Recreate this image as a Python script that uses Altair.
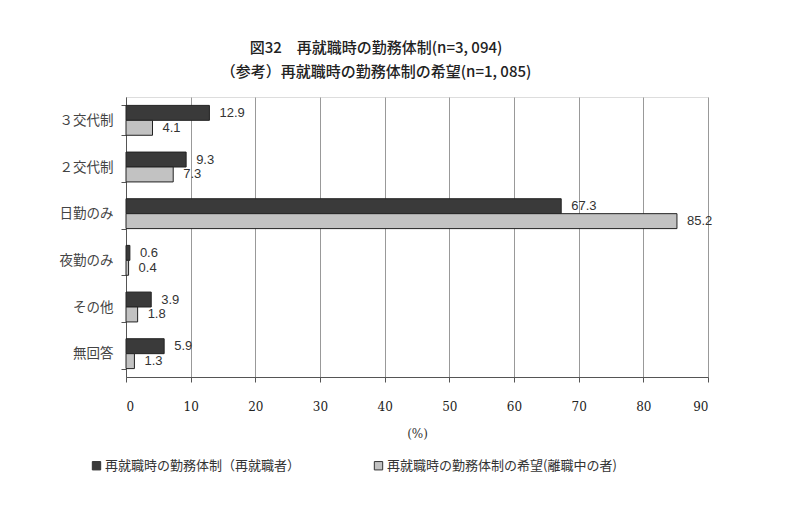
import altair as alt
import pandas as pd

categories = ["３交代制", "２交代制", "日勤のみ", "夜勤のみ", "その他", "無回答"]
series_names = ["再就職時の勤務体制（再就職者）", "再就職時の勤務体制の希望(離職中の者)"]
employed = [12.9, 9.3, 67.3, 0.6, 3.9, 5.9]
hoping = [4.1, 7.3, 85.2, 0.4, 1.8, 1.3]
x_ticks = [0, 10, 20, 30, 40, 50, 60, 70, 80, 90]

rows = []
for c, a, b in zip(categories, employed, hoping):
    rows.append({"cat": c, "series": series_names[0], "value": a, "label": f"{a:.1f}"})
    rows.append({"cat": c, "series": series_names[1], "value": b, "label": f"{b:.1f}"})
df = pd.DataFrame(rows)

jp = "Noto Sans CJK JP"

y_enc = alt.Y("cat:N", sort=categories, title=None,
              scale=alt.Scale(paddingInner=0.36, paddingOuter=0.18),
              axis=alt.Axis(tickBand="extent", labelFont=jp, labelFontSize=13.5,
                            labelColor="#444", labelPadding=8, tickSize=5,
                            tickColor="#555", domainColor="#555", grid=False))
yoff = alt.YOffset("series:N", sort=series_names)

bars = alt.Chart(df).mark_bar(strokeWidth=1).encode(
    x=alt.X("value:Q", scale=alt.Scale(domain=[0, 90], nice=False),
            title="(%)",
            axis=alt.Axis(values=x_ticks, labelFont="DejaVu Serif", labelFontSize=12,
                          labelColor="#222", labelPadding=19, tickSize=5,
                          tickColor="#555", domainColor="#555",
                          gridColor="#999", gridWidth=1,
                          titleFont="DejaVu Serif", titleFontSize=12,
                          titleFontWeight="normal", titleColor="#333",
                          titlePadding=16)),
    y=y_enc,
    yOffset=yoff,
    color=alt.Color("series:N", sort=series_names,
                    scale=alt.Scale(domain=series_names, range=["#3a3a3a", "#c2c2c2"]),
                    legend=alt.Legend(title=None, orient="none", direction="horizontal",
                                      legendX=-36, legendY=362, symbolType="square",
                                      symbolSize=70, symbolStrokeColor="#333",
                                      symbolStrokeWidth=1, labelFont=jp,
                                      labelFontSize=13, labelColor="#333",
                                      columnPadding=71, labelOffset=2,
                                      labelLimit=400)),
    stroke=alt.value("#222"),
)

labels = alt.Chart(df).mark_text(align="left", baseline="middle", dx=10,
                                 font="Liberation Sans", fontSize=13,
                                 color="#333").encode(
    x="value:Q",
    y=alt.Y("cat:N", sort=categories),
    yOffset=yoff,
    text="label:N",
)

chart = (bars + labels).properties(
    width=582, height=280,
    autosize=alt.AutoSizeParams(type="none"),
    padding={"left": 126, "top": 97, "right": 92, "bottom": 139},
    title=alt.TitleParams(
        text=["図32　再就職時の勤務体制(n=3, 094)", "（参考）再就職時の勤務体制の希望(n=1, 085)"],
        font=jp, fontSize=15, fontWeight=500, color="#222",
        anchor="middle", dx=-41, offset=10, lineHeight=24),
).configure_view(stroke=None).configure(background="white")

chart.save("out.html", embed_options={"renderer": "svg", "actions": False})
